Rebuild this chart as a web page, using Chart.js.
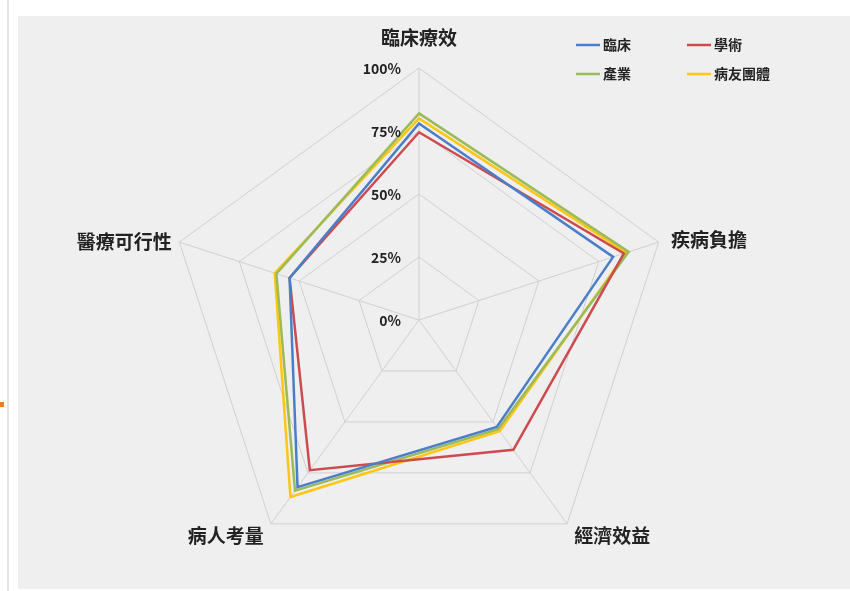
<!DOCTYPE html>
<html>
<head>
<meta charset="utf-8">
<script src="https://cdn.jsdelivr.net/npm/chart.js@4.4.0/dist/chart.umd.min.js"></script>
<style>
  html, body { margin: 0; padding: 0; background: #fff; }
  #wrap { position: relative; width: 850px; height: 591px; overflow: hidden; }
  #edge { position: absolute; left: 7px; top: 0; width: 2px; height: 591px; background: #e4e4e4; }
  #panel { position: absolute; left: 18px; top: 16px; width: 832px; height: 573px; background: #efefef; }
  #dot { position: absolute; left: 0; top: 402px; width: 4px; height: 5px; background: #f07c22; }
  #c { position: absolute; left: 0; top: 0; }
</style>
</head>
<body>
<div id="wrap">
  <div id="edge"></div>
  <div id="panel"></div>
  <div id="dot"></div>
  <canvas id="c" width="850" height="591"></canvas>
</div>
<script>
// 軸(類別)
var categories = ["臨床療效", "疾病負擔", "經濟效益", "病人考量", "醫療可行性"];
var tickLabels = ["0%", "25%", "50%", "75%", "100%"];

// 各組資料
var clinical = [0.78, 0.81, 0.525, 0.82, 0.54];
var academic = [0.745, 0.855, 0.637, 0.737, 0.54];
var industry = [0.82, 0.875, 0.535, 0.837, 0.595];
var patient  = [0.80, 0.865, 0.545, 0.868, 0.602];

var FONT = "'Noto Sans CJK TC', 'Noto Sans', sans-serif";

// 自訂: 刻度文字、軸標籤、圖例
var radarText = {
    id: 'radarText',
    afterDraw: function(chart) {
        var ctx = chart.ctx;
        var r = chart.scales.r;
        ctx.save();
        ctx.fillStyle = '#222';

        // 刻度 (放在軸線左側)
        ctx.font = 'bold 14px ' + FONT;
        ctx.textAlign = 'right';
        ctx.textBaseline = 'middle';
        r.ticks.forEach(function(t, i) {
            var d = r.getDistanceFromCenterForValue(t.value);
            ctx.fillText(tickLabels[i], r.xCenter - 18, r.yCenter - d + 1);
        });

        // 軸標籤
        ctx.font = 'bold 19px ' + FONT;
        var aligns = ['center', 'left', 'left', 'right', 'right'];
        var dist = [r.drawingArea + 30, r.drawingArea + 13, r.drawingArea + 12, r.drawingArea + 12, r.drawingArea + 8];
        categories.forEach(function(lbl, i) {
            var p = r.getPointPosition(i, dist[i]);
            ctx.textAlign = aligns[i];
            ctx.fillText(lbl, p.x, p.y + (i == 0 ? 0 : 2));
        });

        // 圖例 (兩欄)
        ctx.font = 'bold 14px ' + FONT;
        ctx.textAlign = 'left';
        var cols = [576, 687];
        var rows = [45, 74];
        chart.data.datasets.forEach(function(ds, i) {
            var x = cols[i % 2], y = rows[Math.floor(i / 2)];
            ctx.strokeStyle = ds.borderColor;
            ctx.lineWidth = 2.5;
            ctx.beginPath();
            ctx.moveTo(x, y);
            ctx.lineTo(x + 24, y);
            ctx.stroke();
            ctx.fillStyle = '#222';
            ctx.fillText(ds.label, x + 27, y);
        });
        ctx.restore();
    }
};

new Chart(document.getElementById("c"), {
    type: 'radar',
    data: {
        labels: categories,
        datasets: [{
            label: "臨床",
            data: clinical,
            borderColor: "#4a7ec8",
            borderWidth: 2.5,
            fill: false
        }, {
            label: "學術",
            data: academic,
            borderColor: "#cc4b4f",
            borderWidth: 2.5,
            fill: false
        }, {
            label: "產業",
            data: industry,
            borderColor: "#9bbb59",
            borderWidth: 2.5,
            fill: false
        }, {
            label: "病友團體",
            data: patient,
            borderColor: "#ffc613",
            borderWidth: 2.5,
            fill: false
        }]
    },
    options: {
        responsive: false,
        animation: false,
        layout: {
            padding: { left: 167, right: 179, top: 68, bottom: 19 }
        },
        elements: {
            point: { radius: 0, hoverRadius: 0 },
            line: { tension: 0 }
        },
        plugins: {
            legend: { display: false },
            tooltip: { enabled: false }
        },
        scales: {
            r: {
                min: 0,
                max: 1,
                ticks: { stepSize: 0.25, display: false },
                grid: { color: '#d0d0d0', lineWidth: 1 },
                angleLines: { color: '#d0d0d0', lineWidth: 1 },
                pointLabels: { display: false }
            }
        }
    },
    plugins: [radarText]
});
</script>
</body>
</html>
